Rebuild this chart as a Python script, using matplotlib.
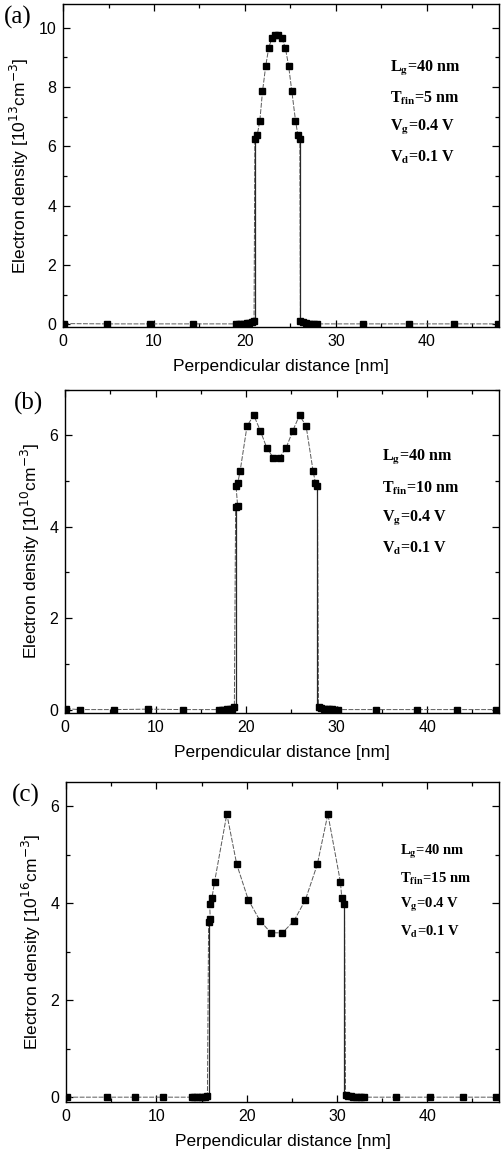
import numpy as np
import matplotlib
matplotlib.use('Agg')
import matplotlib.pyplot as plt
from matplotlib.ticker import MultipleLocator

plt.rcParams['font.family'] = ['Liberation Sans', 'DejaVu Sans']

# (a) Tfin = 5 nm
xa = [0.1, 4.8, 9.6, 14.3, 19.0, 19.3, 19.6, 19.9, 20.2, 20.5, 20.8, 21.0,
      21.09, 21.35, 21.64, 21.93, 22.29, 22.62, 22.98, 23.35, 23.64, 24.04, 24.44,
      24.8, 25.16, 25.56, 25.82, 26.04,
      26.1, 26.4, 26.7, 27.0, 27.3, 27.6, 27.9, 33.0, 38.0, 43.0, 47.8]
ya = [0.02, 0.01, 0.01, 0.01, 0.01, 0.01, 0.01, 0.02, 0.03, 0.05, 0.08, 0.12,
      6.24, 6.38, 6.87, 7.85, 8.72, 9.33, 9.66, 9.74, 9.74, 9.66, 9.33,
      8.72, 7.85, 6.87, 6.38, 6.24,
      0.12, 0.06, 0.03, 0.02, 0.01, 0.01, 0.01, 0.01, 0.01, 0.01, 0.01]

# (b) Tfin = 10 nm
xb = [0.1, 1.6, 5.4, 9.2, 13.0, 17.0, 17.3, 17.6, 17.9, 18.2, 18.45, 18.7,
      18.84, 19.06, 18.88, 19.08, 19.34, 20.1, 20.84, 21.57, 22.27, 23.0, 23.7,
      24.43, 25.16, 25.9, 26.63, 27.4, 27.66, 27.88,
      28.0, 28.3, 28.6, 28.9, 29.2, 29.5, 29.8, 30.1, 34.3, 38.9, 43.3, 47.6]
yb = [0.02, 0.0, 0.0, 0.01, 0.0, 0.0, 0.0, 0.0, 0.01, 0.01, 0.02, 0.05,
      4.43, 4.46, 4.90, 4.96, 5.22, 6.20, 6.44, 6.10, 5.73, 5.51, 5.51,
      5.73, 6.10, 6.44, 6.20, 5.22, 4.96, 4.90,
      0.06, 0.03, 0.02, 0.01, 0.01, 0.01, 0.0, 0.0, 0.0, 0.0, 0.0, 0.0]

# (c) Tfin = 15 nm
xc = [0.1, 4.5, 7.6, 10.7, 13.9, 14.2, 14.5, 14.8, 15.1, 15.4, 15.65,
      15.78, 15.96, 15.9, 16.15, 16.44, 17.8, 18.9, 20.18, 21.47, 22.68, 23.96,
      25.25, 26.5, 27.82, 28.99, 30.38, 30.53, 30.83,
      30.95, 31.2, 31.5, 31.8, 32.1, 32.4, 32.7, 33.0, 36.5, 40.3, 44.0, 47.6]
yc = [0.0, 0.0, 0.0, 0.0, 0.0, 0.0, 0.0, 0.0, 0.0, 0.01, 0.03,
      3.61, 3.68, 3.99, 4.11, 4.44, 5.84, 4.80, 4.07, 3.64, 3.39, 3.39,
      3.64, 4.07, 4.80, 5.84, 4.44, 4.11, 3.99,
      0.05, 0.03, 0.02, 0.01, 0.01, 0.0, 0.0, 0.0, 0.0, 0.0, 0.0, 0.0]

panels = [
    dict(x=xa, y=ya, tag='(a)', exp='13', ylim=(-0.1, 10.8),
         rect=[0.126, 0.717, 0.871, 0.2795], tfin='5',
         txt_xy=(0.748, 0.799), txt_dy=0.091, fs=11.5, tag_x=0.008),
    dict(x=xb, y=yb, tag='(b)', exp='10', ylim=(-0.08, 7.0),
         rect=[0.130, 0.383, 0.867, 0.280], tfin='10',
         txt_xy=(0.729, 0.789), txt_dy=0.093, fs=11.5, tag_x=0.028),
    dict(x=xc, y=yc, tag='(c)', exp='16', ylim=(-0.1, 6.5),
         rect=[0.132, 0.0467, 0.865, 0.2768], tfin='15',
         txt_xy=(0.770, 0.781), txt_dy=0.083, fs=10.5, tag_x=0.024),
]

fig = plt.figure(figsize=(5.01, 11.56), dpi=100)

for p in panels:
    ax = fig.add_axes(p['rect'])
    x = np.array(p['x'])
    y = np.array(p['y'])
    ax.plot(x, y, color='0.35', lw=0.7, ls=(0, (5, 1.5)), zorder=2)
    # solid vertical edges where density jumps
    jump = np.where(np.abs(np.diff(y)) > 2)[0]
    for i in jump:
        k = i if y[i] > y[i + 1] else i + 1
        ax.vlines(x[k], 0, y[k], color='0.15', lw=0.9, zorder=2)
    ax.plot(x, y, ls='none', marker='s', ms=4.3, color='black', zorder=3)

    ax.set_xlim(0, 48)
    ax.set_ylim(*p['ylim'])
    ax.xaxis.set_major_locator(MultipleLocator(10))
    ax.xaxis.set_minor_locator(MultipleLocator(5))
    ax.yaxis.set_major_locator(MultipleLocator(2))
    ax.yaxis.set_minor_locator(MultipleLocator(1))
    ax.tick_params(which='both', direction='in', top=True, right=True,
                   labelsize=11.5, width=0.9, pad=5)
    ax.tick_params(which='major', length=5)
    ax.tick_params(which='minor', length=3)
    for s in ax.spines.values():
        s.set_linewidth(1.0)

    ax.set_xlabel('Perpendicular distance [nm]', fontsize=12.5, labelpad=7)
    ax.set_ylabel('Electron density [10$^{%s}$cm$^{-3}$]' % p['exp'], fontsize=12.5,
                  labelpad=5)

    lines = ['L$_\\mathbf{g}$=40 nm', 'T$_\\mathbf{fin}$=%s nm' % p['tfin'],
             'V$_\\mathbf{g}$=0.4 V', 'V$_\\mathbf{d}$=0.1 V']
    tx, ty = p['txt_xy']
    for j, t in enumerate(lines):
        ax.text(tx, ty - j * p['txt_dy'], t, transform=ax.transAxes,
                fontsize=p['fs'], fontweight='bold', family='Liberation Serif',
                math_fontfamily='stix', va='center', ha='left')

    fig.text(p['tag_x'], p['rect'][1] + p['rect'][3] - 0.012,
             p['tag'], fontsize=18, family='Liberation Serif', va='center', ha='left')

fig.savefig('out.png', dpi=100)
